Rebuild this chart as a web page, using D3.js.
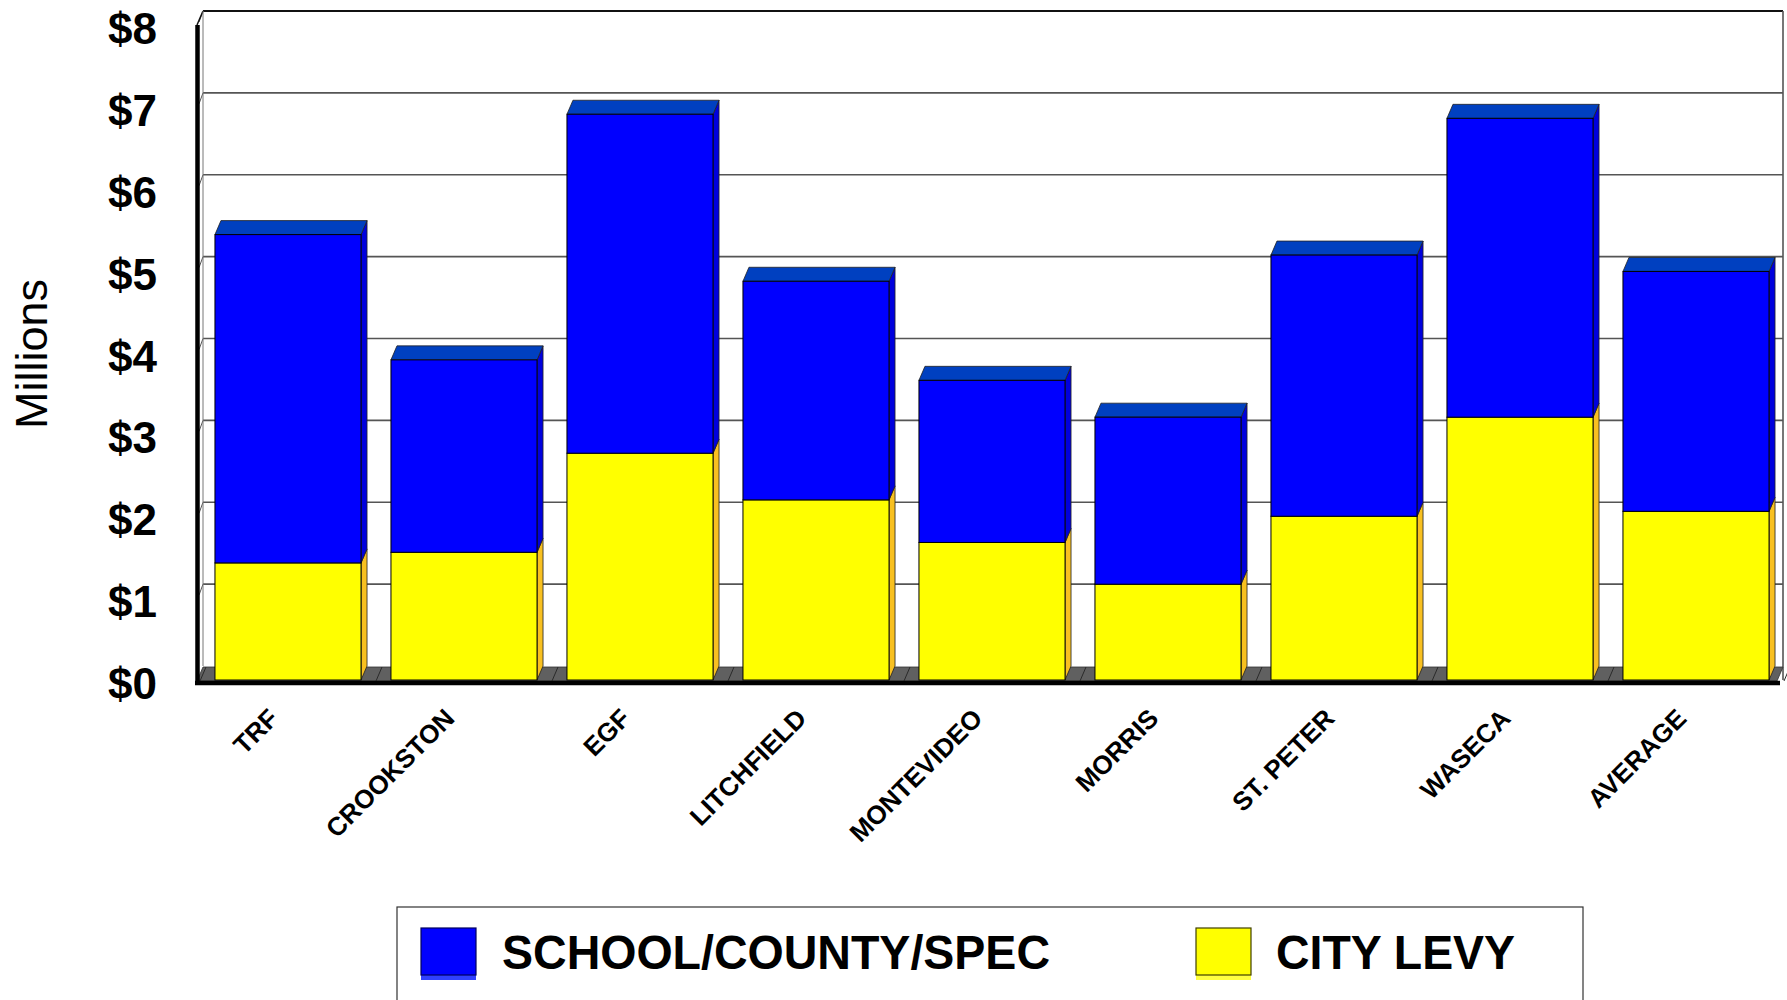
<!DOCTYPE html>
<html>
<head>
<meta charset="utf-8">
<script src="https://cdn.jsdelivr.net/npm/d3@7"></script>
<style>
  html, body { margin: 0; padding: 0; background: #ffffff; }
  svg { display: block; }
</style>
</head>
<body>
<svg id="chart" width="1787" height="1000"></svg>
<script>
// Property tax levy by community, in millions of dollars
const categories = ["TRF", "CROOKSTON", "EGF", "LITCHFIELD", "MONTEVIDEO", "MORRIS", "ST. PETER", "WASECA", "AVERAGE"];
const cityLevy   = [1.43, 1.56, 2.77, 2.20, 1.68, 1.17, 2.00, 3.21, 2.06];
const schoolCountySpec = [4.01, 2.35, 4.14, 2.67, 1.98, 2.04, 3.19, 3.65, 2.93];
const yTicks = [0, 1, 2, 3, 4, 5, 6, 7, 8];
const yTickLabels = ["$0", "$1", "$2", "$3", "$4", "$5", "$6", "$7", "$8"];
const seriesKeys = ["city", "school"];
const seriesNames = { school: "SCHOOL/COUNTY/SPEC", city: "CITY LEVY" };

const colors = {
  city:   { front: "#ffff00", side: "#f8c020", top: "#e6e600" },
  school: { front: "#0000ff", side: "#0000dd", top: "#0040c0" }
};

const svg = d3.select("#chart");

// Oblique depth of the 3-D plot box
const DX = 6, DY = -14;

const x = d3.scaleBand().domain(categories).range([200, 1784])
  .paddingInner(0.17).paddingOuter(0.085);
const y = d3.scaleLinear().domain([0, 8]).range([680, 25]);

const wallLeft = 197 + DX, wallRight = 1783;
const wallTop = y(8) + DY, wallBottom = y(0) + DY;

// Back wall
svg.append("rect")
  .attr("x", wallLeft).attr("y", wallTop)
  .attr("width", wallRight - wallLeft).attr("height", wallBottom - wallTop)
  .attr("fill", "#ffffff");

// Gridlines on the back wall and their short runs on the left side wall
const grid = svg.append("g");
yTicks.filter(v => v > 0).forEach(v => {
  const yy = y(v) + DY;
  grid.append("line")
    .attr("x1", wallLeft).attr("x2", wallRight)
    .attr("y1", yy).attr("y2", yy)
    .attr("stroke", v === 8 ? "#111" : "#555")
    .attr("stroke-width", v === 8 ? 2 : 1.6);
  grid.append("line")
    .attr("x1", 199).attr("y1", y(v) - 3)
    .attr("x2", wallLeft).attr("y2", yy)
    .attr("stroke", "#555").attr("stroke-width", 1);
});
// right edge of the wall and top-left corner edge
grid.append("line")
  .attr("x1", wallRight).attr("x2", wallRight)
  .attr("y1", wallTop).attr("y2", wallBottom + 14)
  .attr("stroke", "#555").attr("stroke-width", 1.6);
grid.append("line")
  .attr("x1", 197).attr("y1", y(8))
  .attr("x2", wallLeft).attr("y2", wallTop)
  .attr("stroke", "#111").attr("stroke-width", 1.5);
grid.append("line")
  .attr("x1", wallLeft).attr("x2", wallLeft)
  .attr("y1", wallTop).attr("y2", wallBottom)
  .attr("stroke", "#777").attr("stroke-width", 1);

// Floor
const floorFront = y(0) + 1;
svg.append("path")
  .attr("d", `M197,${floorFront} L${wallRight - DX},${floorFront} L${wallRight},${floorFront + DY} L${wallLeft},${floorFront + DY} Z`)
  .attr("fill", "#606060").attr("stroke", "#333").attr("stroke-width", 0.8);
// category divisions across the floor
const step = x.step();
d3.range(categories.length + 1).forEach(i => {
  const bx = x(categories[0]) - (step - x.bandwidth()) / 2 + i * step;
  svg.append("line")
    .attr("x1", bx).attr("y1", floorFront)
    .attr("x2", bx + DX).attr("y2", floorFront + DY)
    .attr("stroke", "#2a2a2a").attr("stroke-width", 1);
});

// Stacked 3-D columns
const rows = categories.map((c, i) => ({ cat: c, city: cityLevy[i], school: schoolCountySpec[i] }));
const stacked = d3.stack().keys(seriesKeys)(rows);
const bw = x.bandwidth();
const bars = svg.append("g");

stacked.forEach((layer, li) => {
  const key = layer.key;
  const isTop = li === stacked.length - 1;
  layer.forEach(d => {
    const x0 = x(d.data.cat), x1 = x0 + bw;
    const yT = y(d[1]), yB = y(d[0]);
    const g = bars.append("g");
    g.append("path")
      .attr("d", `M${x1},${yB} L${x1 + DX},${yB + DY} L${x1 + DX},${yT + DY} L${x1},${yT} Z`)
      .attr("fill", colors[key].side).attr("stroke", "#222").attr("stroke-width", 0.8);
    if (isTop) {
      g.append("path")
        .attr("d", `M${x0},${yT} L${x1},${yT} L${x1 + DX},${yT + DY} L${x0 + DX},${yT + DY} Z`)
        .attr("fill", colors[key].top).attr("stroke", "#222").attr("stroke-width", 0.8);
    }
    g.append("rect")
      .attr("x", x0).attr("y", yT)
      .attr("width", bw).attr("height", yB - yT)
      .attr("fill", colors[key].front)
      .attr("stroke", "#000").attr("stroke-width", 1);
  });
});

// Axis lines (front edges of the plot box)
svg.append("line")
  .attr("x1", 197.5).attr("x2", 197.5)
  .attr("y1", y(8)).attr("y2", 685)
  .attr("stroke", "#000").attr("stroke-width", 4.5);
svg.append("line")
  .attr("x1", 195).attr("x2", 1780)
  .attr("y1", 683).attr("y2", 683)
  .attr("stroke", "#000").attr("stroke-width", 4.5);

// Value labels
const yAxis = svg.append("g").attr("font-family", "'Liberation Sans', Arial, sans-serif")
  .attr("font-weight", "bold").attr("font-size", 44).attr("fill", "#000");
yTicks.forEach((v, i) => {
  yAxis.append("text")
    .attr("x", 157).attr("y", y(v) + 19)
    .attr("text-anchor", "end")
    .text(yTickLabels[i]);
});

// Axis title
svg.append("text")
  .attr("transform", "translate(47,354) rotate(-90)")
  .attr("text-anchor", "middle")
  .attr("font-family", "'Liberation Sans', Arial, sans-serif")
  .attr("font-size", 45).attr("fill", "#000")
  .text("Millions");

// Category labels, slanted
const xAxis = svg.append("g").attr("font-family", "'Liberation Sans', Arial, sans-serif")
  .attr("font-weight", "bold").attr("font-size", 26).attr("fill", "#000");
categories.forEach(c => {
  const cx = x(c) + bw / 2 - 8;
  xAxis.append("text")
    .attr("transform", `translate(${cx},720) rotate(-45)`)
    .attr("text-anchor", "end")
    .text(c);
});

// Legend
const legend = svg.append("g");
legend.append("rect")
  .attr("x", 397).attr("y", 907).attr("width", 1186).attr("height", 120)
  .attr("fill", "#fff").attr("stroke", "#333").attr("stroke-width", 1.2);

const legendItems = [
  { key: "school", sx: 421, tx: 502, tl: 548 },
  { key: "city", sx: 1196, tx: 1276, tl: 239 }
];
legendItems.forEach(it => {
  legend.append("rect")
    .attr("x", it.sx).attr("y", 975).attr("width", 55).attr("height", 5)
    .attr("fill", it.key === "school" ? "#3040ff" : "#ffff40");
  legend.append("rect")
    .attr("x", it.sx).attr("y", 928).attr("width", 55).attr("height", 47)
    .attr("fill", colors[it.key].front)
    .attr("stroke", it.key === "school" ? "#000060" : "#404000").attr("stroke-width", 1.2);
  legend.append("text")
    .attr("x", it.tx).attr("y", 969)
    .attr("font-family", "'Liberation Sans', Arial, sans-serif")
    .attr("font-weight", "bold").attr("font-size", 48).attr("fill", "#000")
    .attr("textLength", it.tl).attr("lengthAdjust", "spacingAndGlyphs")
    .text(seriesNames[it.key]);
});
</script>
</body>
</html>
